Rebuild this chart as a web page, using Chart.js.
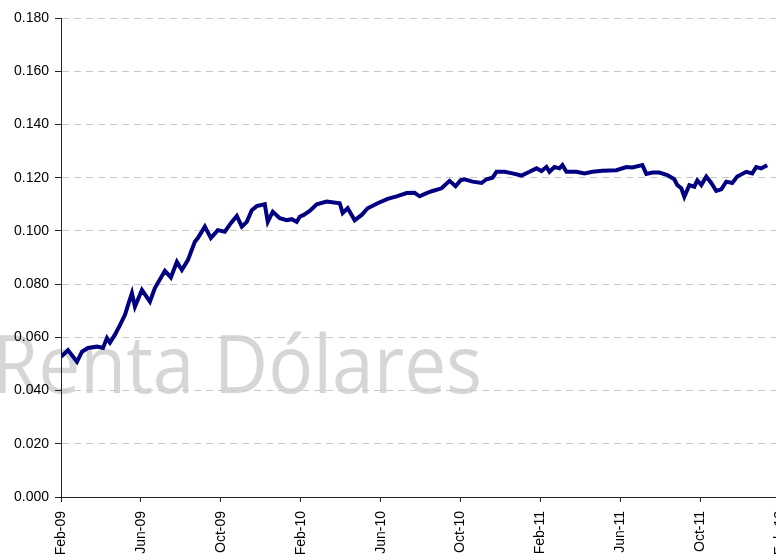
<!DOCTYPE html>
<html>
<head>
<meta charset="utf-8">
<script src="https://cdn.jsdelivr.net/npm/chart.js@4.4.1/dist/chart.umd.min.js"></script>
<style>
  html, body { margin: 0; padding: 0; background: #fff; }
  #wrap { width: 776px; height: 556px; overflow: hidden; position: relative; }
  canvas { display: block; }
</style>
</head>
<body>
<div id="wrap"><canvas id="chart" width="806" height="560"></canvas></div>
<script>
// tick labels on the x axis, one every 4 months starting Feb-09
const tickLabels = ['Feb-09', 'Jun-09', 'Oct-09', 'Feb-10', 'Jun-10', 'Oct-10',
                    'Feb-11', 'Jun-11', 'Oct-11', 'Feb-12'];

// months elapsed since Feb-09
const months = [
    0.00, 0.35, 0.80, 1.05, 1.35, 1.80, 2.10, 2.30, 2.45, 2.70, 2.95, 3.20, 3.35, 3.55, 3.70,
    4.05, 4.45, 4.70, 5.20, 5.50, 5.80, 6.05, 6.35, 6.70, 6.85, 7.20, 7.50, 7.85, 8.20, 8.50,
    8.80, 9.05, 9.30, 9.55, 9.80, 10.20, 10.35, 10.60, 10.95, 11.30, 11.55, 11.80, 11.95, 12.15,
    12.45, 12.80, 13.30, 13.95, 14.10, 14.35, 14.70, 15.05, 15.35, 15.85, 16.35, 16.80, 17.30,
    17.70, 17.95, 18.30, 18.60, 19.05, 19.45, 19.75, 20.00, 20.20, 20.60, 21.05, 21.30, 21.60,
    21.80, 22.20, 22.60, 23.05, 23.45, 23.80, 24.05, 24.30, 24.45, 24.70, 24.95, 25.10, 25.30,
    25.80, 26.20, 26.60, 27.10, 27.80, 28.30, 28.60, 29.10, 29.30, 29.60, 29.95, 30.35, 30.70,
    30.85, 31.05, 31.20, 31.45, 31.70, 31.85, 32.05, 32.30, 32.55, 32.80, 33.05, 33.30, 33.60,
    33.85, 34.30, 34.60, 34.80, 35.05, 35.35
];

const rates = [
    0.0527, 0.0552, 0.0508, 0.0546, 0.0560, 0.0565, 0.0560, 0.0597, 0.0580, 0.0610, 0.0646, 0.0684, 0.0720, 0.0766, 0.0715,
    0.0778, 0.0734, 0.0785, 0.0850, 0.0825, 0.0884, 0.0853, 0.0890, 0.0959, 0.0973, 0.1016, 0.0973, 0.1003, 0.0997, 0.1029,
    0.1056, 0.1016, 0.1034, 0.1078, 0.1093, 0.1100, 0.1034, 0.1072, 0.1048, 0.1040, 0.1044, 0.1034, 0.1053, 0.1060,
    0.1075, 0.1100, 0.1110, 0.1104, 0.1067, 0.1085, 0.1040, 0.1060, 0.1085, 0.1104, 0.1120, 0.1130, 0.1142,
    0.1143, 0.1130, 0.1142, 0.1150, 0.1160, 0.1188, 0.1168, 0.1190, 0.1194, 0.1185, 0.1180, 0.1194, 0.1200,
    0.1222, 0.1222, 0.1216, 0.1208, 0.1222, 0.1235, 0.1225, 0.1240, 0.1222, 0.1240, 0.1235, 0.1247, 0.1222,
    0.1222, 0.1216, 0.1222, 0.1226, 0.1228, 0.1240, 0.1238, 0.1247, 0.1214, 0.1219, 0.1219, 0.1210, 0.1194,
    0.1172, 0.1160, 0.1128, 0.1172, 0.1166, 0.1190, 0.1172, 0.1204, 0.1180, 0.1150, 0.1156, 0.1185, 0.1180,
    0.1204, 0.1222, 0.1216, 0.1240, 0.1235, 0.1247
];

const yTicks = [0, 0.02, 0.04, 0.06, 0.08, 0.10, 0.12, 0.14, 0.16, 0.18];

// faint fund name drawn behind everything
const watermark = {
    id: 'watermark',
    beforeDraw(chart) {
        const ctx = chart.ctx;
        ctx.save();
        ctx.font = '80px "Open Sans"';
        ctx.fillStyle = '#d6d6d6';
        ctx.textBaseline = 'alphabetic';
        const text = 'Renta Dólares';
        const w = ctx.measureText(text).width;
        ctx.translate(-8, 393);
        ctx.scale(490 / w, 1);
        ctx.fillText(text, 0, 0);
        ctx.restore();
    }
};

const ctx = document.getElementById('chart').getContext('2d');
new Chart(ctx, {
    type: 'line',
    data: {
        datasets: [{
            data: months.map((m, i) => ({ x: m, y: rates[i] })),
            borderColor: '#000080',
            borderWidth: 4,
            pointRadius: 0,
            tension: 0,
            fill: false
        }]
    },
    options: {
        responsive: false,
        animation: false,
        devicePixelRatio: 1,
        layout: { padding: { top: 18, right: 0, left: 0, bottom: 0 } },
        plugins: {
            legend: { display: false },
            tooltip: { enabled: false }
        },
        scales: {
            x: {
                type: 'linear',
                min: 0,
                max: 36,
                afterBuildTicks: (scale) => {
                    scale.ticks = tickLabels.map((_, i) => ({ value: i * 4 }));
                },
                afterFit: (scale) => { scale.height = 63; },
                ticks: {
                    callback: (v) => tickLabels[Math.round(v / 4)],
                    font: { family: 'Liberation Sans, Arial', size: 14 },
                    color: '#000',
                    minRotation: 90,
                    maxRotation: 90,
                    padding: 9,
                    autoSkip: false
                },
                grid: {
                    drawOnChartArea: false,
                    drawTicks: true,
                    tickLength: 5,
                    tickColor: '#222'
                },
                border: { color: '#222', width: 1 }
            },
            y: {
                min: 0,
                max: 0.18,
                afterBuildTicks: (scale) => {
                    scale.ticks = yTicks.map(v => ({ value: v }));
                },
                afterFit: (scale) => { scale.width = 61; },
                ticks: {
                    callback: (v) => v.toFixed(3),
                    font: { family: 'Liberation Sans, Arial', size: 14 },
                    color: '#000',
                    padding: 6
                },
                grid: {
                    color: '#c8c8c8',
                    lineWidth: 1,
                    tickLength: 6,
                    tickColor: '#222',
                    tickBorderDash: []
                },
                border: { color: '#222', width: 1, dash: [7, 5] }
            }
        }
    },
    plugins: [watermark]
});
</script>
</body>
</html>
